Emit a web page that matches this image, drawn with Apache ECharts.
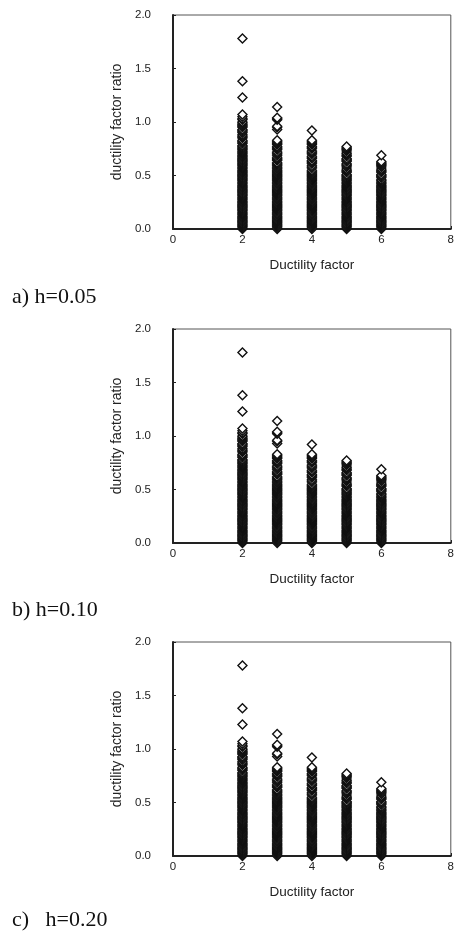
<!DOCTYPE html>
<html>
<head>
<meta charset="utf-8">
<script src="https://cdn.jsdelivr.net/npm/echarts@6/dist/echarts.min.js"></script>
<style>
  html, body { margin: 0; padding: 0; background: #fff; }
  #chart { width: 457px; height: 937px; }
</style>
</head>
<body>
<div id="chart"></div>
<script>
// ductility factor ratio at each ductility factor
const ductility = [2, 3, 4, 5, 6];
const ratioMu2 = [
  0.00, 0.01, 0.02, 0.03, 0.04, 0.05, 0.06, 0.07, 0.08, 0.09, 0.10, 0.11, 0.12, 0.13, 0.14, 0.15, 0.16, 0.17, 0.18, 0.19,
  0.20, 0.21, 0.22, 0.23, 0.24, 0.25, 0.26, 0.27, 0.28, 0.29, 0.30, 0.31, 0.32, 0.33, 0.34, 0.35, 0.36, 0.37, 0.38, 0.39,
  0.40, 0.41, 0.42, 0.43, 0.44, 0.45, 0.46, 0.47, 0.48, 0.49, 0.50, 0.51, 0.52, 0.53, 0.54, 0.55, 0.56, 0.57, 0.58, 0.59,
  0.60, 0.61, 0.62, 0.63, 0.64, 0.65, 0.66, 0.67, 0.68, 0.69, 0.70, 0.71, 0.72, 0.73, 0.74, 0.75, 0.76,
  0.77, 0.78, 0.80, 0.81, 0.82, 0.83, 0.85, 0.86, 0.87, 0.88, 0.90, 0.91, 0.92, 0.93, 0.95, 0.96, 0.97, 0.98,
  0.99, 1.00, 1.02, 1.03, 1.05, 1.07,
  1.23, 1.38, 1.78];
const ratioMu3 = [
  0.00, 0.01, 0.02, 0.03, 0.04, 0.05, 0.06, 0.07, 0.08, 0.09, 0.10, 0.11, 0.12, 0.13, 0.14, 0.15, 0.16, 0.17, 0.18, 0.19,
  0.20, 0.21, 0.22, 0.23, 0.24, 0.25, 0.26, 0.27, 0.28, 0.29, 0.30, 0.31, 0.32, 0.33, 0.34, 0.35, 0.36, 0.37, 0.38, 0.39,
  0.40, 0.41, 0.42, 0.43, 0.44, 0.45, 0.46, 0.47, 0.48, 0.49, 0.50, 0.51, 0.52, 0.53, 0.54, 0.55, 0.56, 0.57, 0.58, 0.59,
  0.60, 0.61, 0.62, 0.64, 0.65, 0.66, 0.67, 0.69, 0.70, 0.71, 0.72, 0.74, 0.75, 0.76, 0.77, 0.79, 0.80, 0.81, 0.82, 0.83,
  0.93, 0.95, 0.96, 1.02, 1.03, 1.04, 1.14];
const ratioMu4 = [
  0.00, 0.01, 0.02, 0.03, 0.04, 0.05, 0.06, 0.07, 0.08, 0.09, 0.10, 0.11, 0.12, 0.13, 0.14, 0.15, 0.16, 0.17, 0.18, 0.19,
  0.20, 0.21, 0.22, 0.23, 0.24, 0.25, 0.26, 0.27, 0.28, 0.29, 0.30, 0.31, 0.32, 0.33, 0.34, 0.35, 0.36, 0.37, 0.38, 0.39,
  0.40, 0.41, 0.42, 0.43, 0.44, 0.45, 0.46, 0.47, 0.48, 0.49, 0.50, 0.51, 0.52, 0.53, 0.54,
  0.55, 0.57, 0.58, 0.59, 0.61, 0.62, 0.63, 0.64, 0.66, 0.67, 0.68, 0.70, 0.71, 0.72, 0.73, 0.75, 0.76, 0.77, 0.79,
  0.80, 0.81, 0.82, 0.83,
  0.92];
const ratioMu5 = [
  0.00, 0.01, 0.02, 0.03, 0.04, 0.05, 0.06, 0.07, 0.08, 0.09, 0.10, 0.11, 0.12, 0.13, 0.14, 0.15, 0.16, 0.17, 0.18, 0.19,
  0.20, 0.21, 0.22, 0.23, 0.24, 0.25, 0.26, 0.27, 0.28, 0.29, 0.30, 0.31, 0.32, 0.33, 0.34, 0.35, 0.36, 0.37, 0.38, 0.39,
  0.40, 0.41, 0.42, 0.43, 0.44, 0.45, 0.46, 0.47, 0.48, 0.49, 0.50,
  0.51, 0.53, 0.54, 0.55, 0.56, 0.58, 0.59, 0.60, 0.61, 0.63, 0.64, 0.65, 0.66, 0.68, 0.69, 0.70, 0.71, 0.73, 0.74,
  0.75, 0.76, 0.77];
const ratioMu6 = [
  0.00, 0.01, 0.02, 0.03, 0.04, 0.05, 0.06, 0.07, 0.08, 0.09, 0.10, 0.11, 0.12, 0.13, 0.14, 0.15, 0.16, 0.17, 0.18, 0.19,
  0.20, 0.21, 0.22, 0.23, 0.24, 0.25, 0.26, 0.27, 0.28, 0.29, 0.30, 0.31, 0.32, 0.33, 0.34, 0.35, 0.36, 0.37, 0.38, 0.39,
  0.40, 0.41, 0.42, 0.43, 0.44, 0.45,
  0.46, 0.48, 0.49, 0.50, 0.51, 0.53, 0.54, 0.55, 0.56, 0.58, 0.59, 0.60, 0.61, 0.62, 0.63,
  0.69];
const ratios = [ratioMu2, ratioMu3, ratioMu4, ratioMu5, ratioMu6];

const captions = ["a) h=0.05", "b) h=0.10", "c)   h=0.20"];
const xTicks = [0, 2, 4, 6, 8];
const yTicks = [0, 0.5, 1.0, 1.5, 2.0];

const gridTops = [15, 329, 642];
const captionTops = [286, 599, 909];

var points = [];
ductility.forEach(function (mu, i) {
  ratios[i].forEach(function (r) { points.push([mu, r]); });
});

var grids = [], xAxes = [], yAxes = [], series = [], graphics = [];
gridTops.forEach(function (top, k) {
  grids.push({
    left: 173, top: top, width: 280, height: 214,
    show: true, borderColor: "#555", borderWidth: 1
  });
  xAxes.push({
    gridIndex: k, type: "value",
    min: xTicks[0], max: xTicks[xTicks.length - 1], interval: 2,
    name: "Ductility factor", nameLocation: "middle", nameGap: 29,
    nameTextStyle: { fontFamily: "Liberation Sans", fontSize: 13.5, color: "#222" },
    axisLine: { lineStyle: { color: "#222", width: 2 } },
    axisTick: { inside: true, length: 3, lineStyle: { color: "#222" } },
    axisLabel: { margin: 5, fontFamily: "Liberation Sans", fontSize: 11.5, color: "#222" },
    splitLine: { show: false }
  });
  yAxes.push({
    gridIndex: k, type: "value",
    min: yTicks[0], max: yTicks[yTicks.length - 1], interval: 0.5,
    name: "ductility factor ratio", nameLocation: "middle", nameGap: 41,
    nameTextStyle: { fontFamily: "Liberation Sans", fontSize: 14, color: "#222" },
    axisLine: { show: true, lineStyle: { color: "#222", width: 2 } },
    axisTick: { show: true, inside: true, length: 3, lineStyle: { color: "#222" } },
    axisLabel: {
      margin: 22, fontFamily: "Liberation Sans", fontSize: 11.5, color: "#222",
      formatter: function (v) { return v.toFixed(1); }
    },
    splitLine: { show: false }
  });
  series.push({
    type: "scatter", xAxisIndex: k, yAxisIndex: k,
    data: points, symbol: "diamond", symbolSize: 9, clip: false,
    itemStyle: { color: "#fff", borderColor: "#111", borderWidth: 1.4, opacity: 1 },
    emphasis: { disabled: true }
  });
  graphics.push({
    type: "text", left: 12, top: captionTops[k],
    style: { text: captions[k], font: "22px 'Liberation Serif'", fill: "#111" }
  });
});

var chart = echarts.init(document.getElementById("chart"), null, { renderer: "canvas" });
chart.setOption({
  animation: false,
  backgroundColor: "#fff",
  grid: grids,
  xAxis: xAxes,
  yAxis: yAxes,
  series: series,
  graphic: graphics
});
</script>
</body>
</html>
